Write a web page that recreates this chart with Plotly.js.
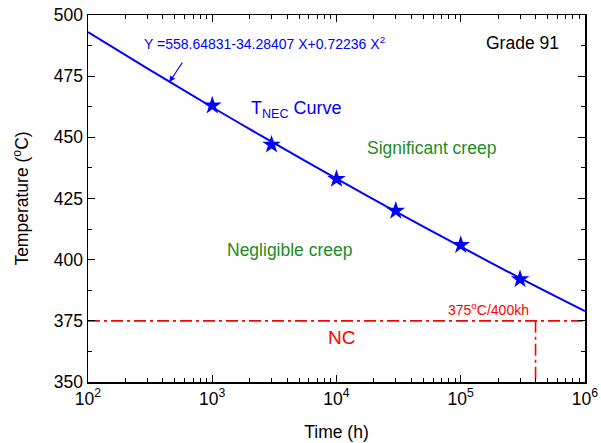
<!DOCTYPE html>
<html><head><meta charset="utf-8">
<script src="https://cdn.plot.ly/plotly-3.0.1.min.js"></script>
<style>html,body{margin:0;padding:0;background:#fff}#chart{width:601px;height:443px}</style>
</head><body><div id="chart"></div>
<script>
// fitted T_NEC curve
const curveTime = [100, 300, 1000, 3000, 10000, 30000, 100000, 300000, 1000000];
const curveTemp = [493, 478.2, 462.3, 448.2, 433.1, 419.6, 405.3, 392.5, 379];
// data points (stars)
const pointTime = [1000, 3000, 10000, 30000, 100000, 300000];
const pointTemp = [463, 447, 433, 420, 406, 392];
// NC limit lines
const ncTime = [100, 1000000];
const ncTemp = [375, 375];
const ncVertTime = [400000, 400000];
const ncVertTemp = [375, 350];
const xTickVals = [100, 1000, 10000, 100000, 1000000];
const xTickText = ['10<sup>2</sup>', '10<sup>3</sup>', '10<sup>4</sup>', '10<sup>5</sup>', '10<sup>6</sup>'];
const yTickVals = [350, 375, 400, 425, 450, 475, 500];

const minorX = [];
for (let e = 2; e < 6; e++) for (let d = 2; d <= 9; d++) minorX.push(d * Math.pow(10, e));

const font = 'Liberation Sans, Arial, sans-serif';
const dd = '12px,4px,3px,4px';
const traces = [
  {x: curveTime, y: curveTemp, mode: 'lines', line: {color: '#0000ff', width: 2, shape: 'spline'}},
  {x: pointTime, y: pointTemp, mode: 'markers', marker: {symbol: 'star', size: 14, color: '#0000ff'}},
  {x: ncTime, y: ncTemp, mode: 'lines', line: {color: '#ff0000', width: 1.6, dash: dd}},
  {x: ncVertTime, y: ncVertTemp, mode: 'lines', line: {color: '#ff0000', width: 1.6, dash: dd}}
];
const axisCommon = {showline: true, linecolor: '#000', linewidth: 1.5, mirror: 'allticks', ticks: 'inside',
  ticklen: 7, tickwidth: 1.2, tickcolor: '#000', showgrid: false, zeroline: false,
  tickfont: {family: font, size: 17.5, color: '#000'}};
const layout = {
  width: 601, height: 443, margin: {l: 88, r: 16, t: 15, b: 61},
  paper_bgcolor: '#fff', plot_bgcolor: '#fff', showlegend: false,
  font: {family: font},
  xaxis: Object.assign({}, axisCommon, {type: 'log', range: [2, 6], tickvals: xTickVals, ticktext: xTickText,
    minor: {tickvals: minorX, ticks: 'inside', ticklen: 4, tickwidth: 1, tickcolor: '#000', showgrid: false},
    title: {text: 'Time (h)', font: {family: font, size: 17.5, color: '#000'}, standoff: 18}}),
  yaxis: Object.assign({}, axisCommon, {range: [350, 500], tickvals: yTickVals,
    minor: {dtick: 12.5, ticks: 'inside', ticklen: 4, tickwidth: 1, tickcolor: '#000', showgrid: false},
    title: {text: 'Temperature (<sup>o</sup>C)', font: {family: font, size: 17.5, color: '#000'}, standoff: 20}}),
  annotations: [
    {xref: 'paper', yref: 'paper', x: (142 - 88) / 497, y: 1 - (43 - 15) / 367, xanchor: 'left', yanchor: 'middle', showarrow: false,
     text: 'Y =558.64831-34.28407 X+0.72236 X<sup>2</sup>', font: {family: font, size: 14, color: '#0000ff'}},
    {x: Math.log10(452), y: 472.6, text: '', showarrow: true, arrowhead: 2, arrowsize: 1, arrowwidth: 1.2,
     arrowcolor: '#0000ff', ax: 14, ay: -21},
    {xref: 'paper', yref: 'paper', x: (561 - 88) / 497, y: 1 - (43 - 15) / 367, xanchor: 'right', yanchor: 'middle', showarrow: false,
     text: 'Grade 91', font: {family: font, size: 17.5, color: '#000'}},
    {x: Math.log10(1963), y: 461.2, xanchor: 'left', yanchor: 'middle', showarrow: false,
     text: 'T<sub>NEC</sub> Curve', font: {family: font, size: 18, color: '#0000ff'}},
    {x: Math.log10(58000), y: 445.6, xanchor: 'center', yanchor: 'middle', showarrow: false,
     text: 'Significant creep', font: {family: font, size: 17.5, color: '#228B22'}},
    {x: Math.log10(4250), y: 403.9, xanchor: 'center', yanchor: 'middle', showarrow: false,
     text: 'Negligible creep', font: {family: font, size: 17.5, color: '#228B22'}},
    {x: Math.log10(167500), y: 375, xanchor: 'center', yanchor: 'bottom', yshift: 1, showarrow: false,
     text: '375<sup>o</sup>C/400kh', font: {family: font, size: 14, color: '#ff0000'}},
    {x: Math.log10(11060), y: 368.3, xanchor: 'center', yanchor: 'middle', showarrow: false,
     text: 'NC', font: {family: font, size: 19, color: '#ff0000'}}
  ]
};
Plotly.newPlot('chart', traces, layout, {staticPlot: true});
</script></body></html>
